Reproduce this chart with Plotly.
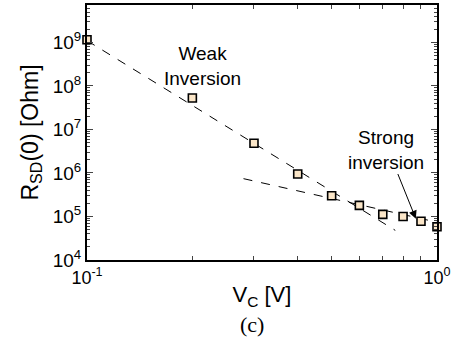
import plotly.graph_objects as go
import numpy as np

vc = [0.1, 0.2, 0.3, 0.4, 0.5, 0.6, 0.7, 0.8, 0.9, 1.0]
rsd = [1.15e9, 5.3e7, 4.8e6, 9.5e5, 3.0e5, 1.8e5, 1.12e5, 1.0e5, 7.8e4, 5.8e4]

weak_x = [0.1, 0.76]
weak_y = [1.1e9, 4.8e4]
strong_x = [0.28, 1.0]
strong_y = [7.4e5, 7.4e4]

ytickvals = [1e4, 1e5, 1e6, 1e7, 1e8, 1e9]
yticktext = ["10<sup>4</sup>", "10<sup>5</sup>", "10<sup>6</sup>", "10<sup>7</sup>", "10<sup>8</sup>", "10<sup>9</sup>"]
xtickvals = [0.1, 1.0]
xticktext = ["10<sup>-1</sup>", "10<sup>0</sup>"]

fig = go.Figure()
fig.add_trace(go.Scatter(x=weak_x, y=weak_y, mode="lines",
                         line=dict(color="black", width=1, dash="dash"), showlegend=False))
fig.add_trace(go.Scatter(x=strong_x, y=strong_y, mode="lines",
                         line=dict(color="black", width=1, dash="dash"), showlegend=False))
fig.add_trace(go.Scatter(x=vc, y=rsd, mode="markers",
                         marker=dict(symbol="square", size=8, color="#fbe6c8",
                                     line=dict(color="black", width=1.6)),
                         showlegend=False, cliponaxis=False))

fig.update_layout(
    width=454, height=343,
    margin=dict(l=87, r=16, t=3, b=83),
    plot_bgcolor="white", paper_bgcolor="white",
    font=dict(family="Arial, Liberation Sans, sans-serif", size=16, color="black"),
    xaxis=dict(type="log", range=[-1, 0], tickvals=xtickvals, ticktext=xticktext,
               ticks="inside", ticklen=6, tickwidth=1, mirror="allticks",
               showline=True, linecolor="black", linewidth=2, showgrid=False,
               zeroline=False, tickfont=dict(size=18),
               minor=dict(ticks="inside", ticklen=4, tickvals=[0.2,0.3,0.4,0.5,0.6,0.7,0.8,0.9], showgrid=False),
               title=dict(text="V<sub>C</sub> [V]", font=dict(size=22), standoff=0)),
    yaxis=dict(type="log", range=[4, 9.86], tickvals=ytickvals, ticktext=yticktext,
               ticks="inside", ticklen=6, tickwidth=1, mirror="allticks",
               showline=True, linecolor="black", linewidth=2, showgrid=False,
               zeroline=False, tickfont=dict(size=19),
               minor=dict(ticks="inside", ticklen=3, dtick="D1", showgrid=False),
               title=dict(text="R<sub>SD</sub>(0) [Ohm]", font=dict(size=23), standoff=8)),
    annotations=[
        dict(x=np.log10(0.214), y=8.45, xref="x", yref="y",
             text="Weak<br>Inversion", showarrow=False, font=dict(size=19)),
        dict(x=np.log10(0.87), y=4.95, xref="x", yref="y",
             ax=np.log10(0.77), ay=6.01, axref="x", ayref="y",
             text="", showarrow=True, arrowhead=2, arrowsize=1.6, arrowwidth=1, arrowcolor="black"),
        dict(x=np.log10(0.716), y=6.52, xref="x", yref="y",
             text="Strong<br>inversion", showarrow=False, font=dict(size=19)),
        dict(x=0.47, y=-0.195, xref="paper", yref="paper", xanchor="center", yanchor="top",
             text="(c)", showarrow=False,
             font=dict(family="Times New Roman, Liberation Serif, serif", size=22)),
    ],
)

fig.write_html("out.html")
